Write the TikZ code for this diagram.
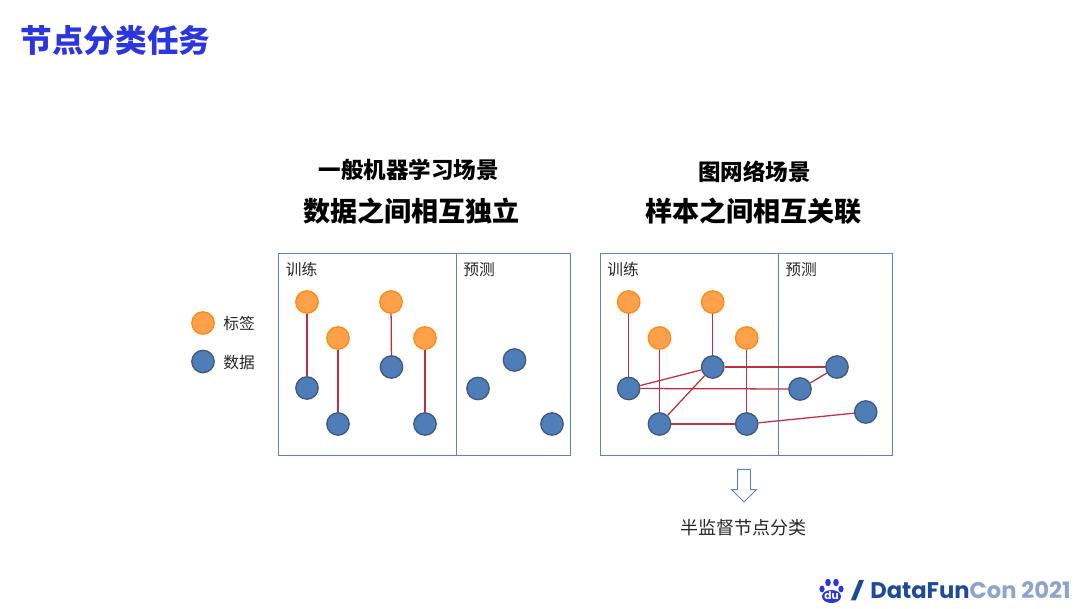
\documentclass[tikz,border=0pt]{standalone}
\usepackage{fontspec}
\usepackage{xcolor}
\usetikzlibrary{arrows.meta,positioning,shapes.arrows}
\newfontfamily\cjk{Noto Sans CJK SC}
\newfontfamily\logofont{Poppins}
\definecolor{titleblue}{HTML}{2B35E0}
\definecolor{frameblue}{HTML}{5B82C8}
\definecolor{labelfill}{HTML}{FFA04A}
\definecolor{labeldraw}{HTML}{FF8A14}
\definecolor{datafill}{HTML}{4F7DB8}
\definecolor{datadraw}{HTML}{41597A}
\definecolor{edgered}{HTML}{BE3040}
\definecolor{logodark}{HTML}{1F4A96}
\definecolor{logolight}{HTML}{8CA3CC}
\definecolor{pawblue}{HTML}{2B35E0}

\begin{document}
\begin{tikzpicture}[
    x=0.75pt, y=-0.75pt,
    frame/.style={rectangle, draw=frameblue, line width=0.95pt, inner sep=0pt},
    label/.style={circle, draw=labeldraw, fill=labelfill, line width=1pt, minimum size=16.8pt, inner sep=0pt},
    data/.style={circle, draw=datadraw, fill=datafill, line width=1pt, minimum size=16.8pt, inner sep=0pt},
    link/.style={draw=edgered, line width=0.95pt},
    small/.style={font=\cjk\fontsize{11.8}{14}\selectfont, text=black!85, inner sep=0pt},
    sub/.style={font=\cjk\bfseries\fontsize{16.9}{20}\selectfont, inner sep=0pt},
    head/.style={font=\cjk\bfseries\fontsize{20.3}{24}\selectfont, inner sep=0pt}
]
\useasboundingbox (0,0) rectangle (1080,608);

\node[font=\cjk\bfseries\fontsize{23.7}{28}\selectfont, text=titleblue, inner sep=0pt] (title) at (115.5,40.5) {节点分类任务};

% left panel
\node[sub] (subL) at (408.7,170) {一般机器学习场景};
\node[head] (headL) at (411.5,211) {数据之间相互独立};
\node[frame, minimum width=134pt, minimum height=151pt] (trainL) at (367.5,354.5) {};
\node[frame, minimum width=85.5pt, minimum height=151pt] (predL) at (513.5,354.5) {};
\node[small] (trainTextL) at (301.5,269.5) {训练};
\node[small] (predTextL) at (479,269.5) {预测};

% legend
\node[label] (legendLabel) at (203,323) {};
\node[data] (legendData) at (203,361.5) {};
\node[small] (legendLabelText) at (239,323.5) {标签};
\node[small] (legendDataText) at (239,362.5) {数据};

\node[label] (la) at (307,302) {};
\node[label] (lb) at (338,338) {};
\node[label] (lc) at (391,302) {};
\node[label] (ld) at (425,338) {};
\node[data] (da) at (307,388) {};
\node[data] (db) at (338,424) {};
\node[data] (dc) at (391.5,367) {};
\node[data] (dd) at (425,424) {};
\node[data] (pa) at (478,388.5) {};
\node[data] (pb) at (514.5,360) {};
\node[data] (pc) at (552,424) {};

\draw[link] (la) -- (da);
\draw[link] (lb) -- (db);
\draw[link] (lc) -- (dc);
\draw[link] (ld) -- (dd);

% right panel
\node[sub] (subR) at (754.5,172) {图网络场景};
\node[head] (headR) at (753.3,211) {样本之间相互关联};
\node[frame, minimum width=134pt, minimum height=151pt] (trainR) at (689.5,354.5) {};
\node[frame, minimum width=85pt, minimum height=151pt] (predR) at (835.5,354.5) {};
\node[small] (trainTextR) at (623,269.5) {训练};
\node[small] (predTextR) at (801,269.5) {预测};

\node[label] (ra) at (628.7,302) {};
\node[label] (rb) at (659.5,338) {};
\node[label] (rc) at (712.7,302) {};
\node[label] (rd) at (746.7,338) {};
\node[data] (sa) at (628.7,388.5) {};
\node[data] (sb) at (659.5,424) {};
\node[data] (sc) at (712.7,367) {};
\node[data] (sd) at (746.7,424) {};
\node[data] (qa) at (800,389) {};
\node[data] (qb) at (837,367) {};
\node[data] (qc) at (865.7,412) {};

\draw[link] (ra) -- (sa);
\draw[link] (rb) -- (sb);
\draw[link] (rc) -- (sc);
\draw[link] (rd) -- (sd);
\draw[link] (sa) -- (sc);
\draw[link] (sa) -- (qa);
\draw[link] (sb) -- (sc);
\draw[link] (sb) -- (sd);
\draw[link] (sc) -- (qb);
\draw[link] (qa) -- (qb);
\draw[link] (sd) -- (qc);

\node[single arrow, draw=frameblue, fill=white, line width=0.6pt, shape border rotate=270,
      minimum width=18pt, minimum height=24.5pt, single arrow head extend=4.5pt, single arrow tip angle=90, inner sep=4.5pt] (down) at (744,482.5) {};
\node[font=\cjk\fontsize{13.5}{16}\selectfont, text=black!85, inner sep=0pt] (result) at (743,528) {半监督节点分类};

% logo
\fill[pawblue] (822,589) ellipse (2.6 and 3.4);
\fill[pawblue] (828,582.5) ellipse (2.8 and 3.8);
\fill[pawblue] (836,582.5) ellipse (2.8 and 3.8);
\fill[pawblue] (841,589) ellipse (2.6 and 3.4);
\fill[pawblue] (831.5,596.5) ellipse (9.5 and 6.5);
\node[font=\logofont\bfseries\fontsize{8}{8}\selectfont, text=white, inner sep=0pt] (du) at (831.5,596) {du};
\node[font=\logofont\bfseries\fontsize{13.5}{16}\selectfont, text=logodark, inner sep=0pt, xscale=1.7, anchor=base] (slash) at (857.5,597.5) {/};
\node[font=\logofont\bfseries\fontsize{17}{19}\selectfont, inner sep=0pt, anchor=base west] (brand) at (870,598) {\textcolor{logodark}{DataFun}\textcolor{logolight}{Con 2021}};
\end{tikzpicture}
\end{document}
